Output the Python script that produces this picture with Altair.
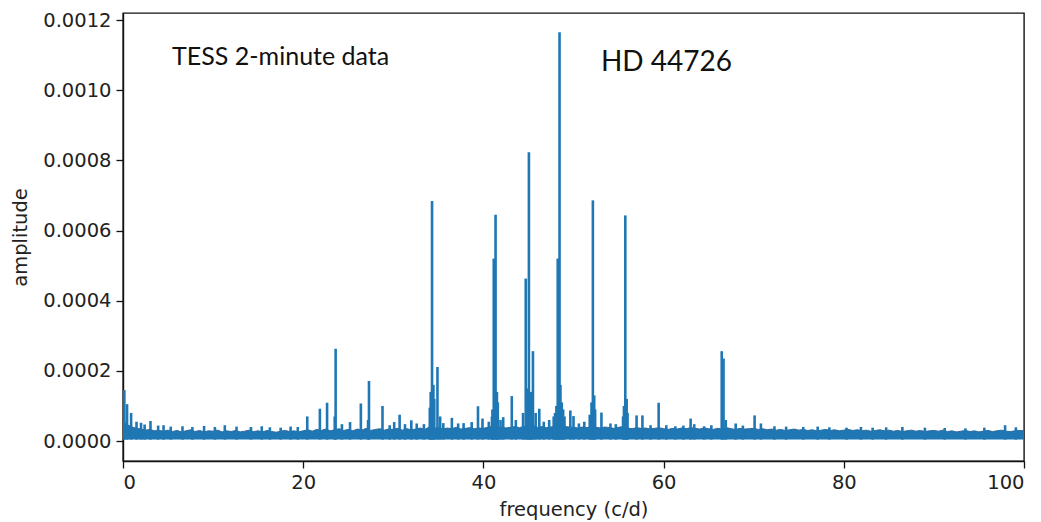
import altair as alt
import pandas as pd

# Amplitude spectrum of HD 44726 (TESS 2-minute cadence); amplitudes stored in units of 1e-6
AMP_UNIT = 1e-6

# Upper edge of the noise band, sampled every 0.5 c/d from 0 to 100 c/d
noise_step = 0.5
noise_top = [
    58, 46, 40, 36, 34, 31, 33, 29, 30, 28, 31, 27, 30, 26, 29, 32, 27, 30, 26, 29,
    28, 31, 26, 29, 27, 30, 26, 28, 31, 27, 29, 26, 30, 27, 25, 28, 30, 27, 29, 26,
    29, 32, 28, 33, 30, 34, 29, 32, 35, 30, 33, 29, 34, 31, 36, 30, 33, 35, 31, 34,
    33, 36, 31, 35, 32, 34, 37, 33, 40, 36, 38, 34, 37, 35, 39, 34, 36, 38, 35, 37,
    36, 39, 42, 38, 40, 37, 39, 41, 38, 42, 40, 44, 39, 41, 38, 40, 42, 46, 41, 40,
    39, 37, 40, 38, 42, 39, 37, 40, 38, 36, 39, 41, 37, 35, 38, 36, 37, 34, 36, 38,
    35, 33, 36, 34, 37, 35, 38, 36, 34, 37, 35, 33, 36, 34, 38, 35, 33, 36, 34, 35,
    36, 33, 35, 32, 34, 31, 33, 30, 32, 34, 31, 33, 30, 32, 29, 31, 33, 30, 32, 29,
    31, 33, 30, 32, 29, 31, 28, 30, 32, 29, 31, 28, 30, 27, 29, 31, 28, 30, 27, 29,
    30, 28, 31, 27, 29, 26, 28, 30, 27, 29, 26, 28, 30, 27, 29, 31, 28, 27, 29, 30,
    29,
]
noise_floor = 4

# Individual spectral peaks: frequency (c/d) and amplitude (1e-6)
peak_freq = [
    0.15, 0.45, 0.9, 1.5, 2.0, 2.4, 3.05, 3.9, 4.5, 5.3, 6.6, 7.7, 9.0, 10.2, 11.3,
    12.6, 14.2, 15.4, 16.3, 17.5, 18.6, 19.4,
    20.45, 21.85, 22.65, 23.5, 23.6, 24.3, 25.2, 26.4, 27.2, 27.3, 28.8, 29.6,
    30.1, 30.7, 31.3, 32.0, 32.6, 33.4,
    34.05, 34.15, 34.3, 34.45, 34.55, 34.9, 35.2, 35.55, 36.5, 37.2, 37.8, 38.7,
    39.4, 39.9, 40.6,
    40.95, 41.0, 41.15, 41.35, 41.5, 41.6, 41.9, 42.2, 43.15, 43.6,
    44.4, 44.7, 44.9, 45.05, 45.2, 45.3, 45.5, 45.8, 46.2, 46.7, 47.3,
    47.8, 47.95, 48.1, 48.25, 48.35, 48.45, 48.55, 48.7, 48.85, 49.0, 49.65, 50.0,
    50.6, 51.2,
    51.8, 52.0, 52.15, 52.3, 52.4, 53.1, 54.1, 54.7,
    55.5, 55.6, 55.75, 55.9, 56.0, 57.0, 57.65, 58.55, 59.45, 60.3, 61.3,
    62.2, 63.0, 63.4, 64.5, 65.3, 66.45, 66.65, 66.9, 68.0, 68.8, 70.1, 70.8,
    72.3, 73.6, 75.5, 77.1, 78.4, 80.3, 81.9, 83.2, 84.7, 86.5, 89.0, 91.2,
    93.5, 95.6, 97.9, 99.1,
]
peak_amp = [
    145, 105, 80, 55, 52, 47, 57, 44, 45, 41, 42, 40, 43, 40, 45,
    41, 40, 42, 39, 38, 41, 40,
    70, 92, 109, 70, 263, 48, 54, 107, 60, 171, 100, 45,
    54, 75, 48, 59, 50, 48,
    95, 140, 684, 160, 120, 211, 70, 51, 66, 50, 51, 54,
    99, 64, 55,
    70, 90, 520, 645, 140, 110, 60, 68, 128, 60,
    80, 463, 150, 823, 120, 140, 256, 80, 92, 55, 60,
    70, 80, 100, 520, 180, 1165, 160, 110, 90, 70, 87, 71,
    50, 55,
    75, 110, 686, 130, 90, 81, 50, 48,
    70, 100, 643, 120, 80, 73, 73, 45, 109, 45, 42,
    44, 64, 48, 42, 45, 256, 235, 60, 50, 44, 73, 50,
    42, 41, 40, 41, 39, 38, 40, 38, 39, 40, 38, 37,
    36, 38, 45, 39,
]

# Annotation texts placed in data coordinates
note_text = ["TESS 2-minute data", "HD 44726"]
note_freq = [5.45, 53.05]
note_amp = [0.001073, 0.001056]
note_size = [25, 28]

BLUE = "#1f77b4"

noise_df = pd.DataFrame({
    "frequency": [i * noise_step for i in range(len(noise_top))],
    "top": [v * AMP_UNIT for v in noise_top],
    "bottom": [noise_floor * AMP_UNIT] * len(noise_top),
})
peak_df = pd.DataFrame({
    "frequency": peak_freq,
    "amplitude": [v * AMP_UNIT for v in peak_amp],
    "base": [noise_floor * AMP_UNIT] * len(peak_freq),
})
note_df = pd.DataFrame({
    "text": note_text, "frequency": note_freq, "amplitude": note_amp, "size": note_size,
})

x_scale = alt.Scale(domain=[0, 100], nice=False, zero=False)
y_scale = alt.Scale(domain=[-0.000057, 0.00122], nice=False, zero=False)

x_axis = alt.Axis(
    title="frequency (c/d)", values=[0, 20, 40, 60, 80, 100], format="d",
    grid=False, titlePadding=9, labelPadding=5,
)
y_axis = alt.Axis(
    title="amplitude",
    values=[0, 0.0002, 0.0004, 0.0006, 0.0008, 0.0010, 0.0012], format=".4f",
    grid=False, titlePadding=12, labelPadding=5,
)

band = alt.Chart(noise_df).mark_area(color=BLUE, opacity=1, strokeWidth=0).encode(
    x=alt.X("frequency:Q", scale=x_scale, axis=x_axis),
    y=alt.Y("top:Q", scale=y_scale, axis=y_axis),
    y2="bottom:Q",
)

band_edge = alt.Chart(noise_df).mark_line(color="#2a6aa0", strokeWidth=1).encode(
    x=alt.X("frequency:Q", scale=x_scale),
    y=alt.Y("top:Q", scale=y_scale),
)

peaks = alt.Chart(peak_df).mark_rule(color=BLUE, strokeWidth=2.6).encode(
    x=alt.X("frequency:Q", scale=x_scale),
    y=alt.Y("amplitude:Q", scale=y_scale),
    y2="base:Q",
)

notes = alt.Chart(note_df).mark_text(
    align="left", baseline="alphabetic", font="Lato", color="#111111",
).encode(
    x=alt.X("frequency:Q", scale=x_scale),
    y=alt.Y("amplitude:Q", scale=y_scale),
    text="text:N",
    size=alt.Size("size:Q", scale=None, legend=None),
)

chart = (
    alt.layer(band, band_edge, peaks, notes)
    .properties(
        width=901, height=448,
        autosize=alt.AutoSizeParams(type="none"),
        padding={"left": 123, "top": 13, "right": 17, "bottom": 61},
        background="white",
    )
    .configure_view(stroke="#111111", strokeWidth=1.4)
    .configure_axis(
        labelFont="DejaVu Sans", labelFontSize=19.5, labelColor="#222222",
        titleFont="DejaVu Sans", titleFontSize=19.5, titleFontWeight="normal",
        titleColor="#222222",
        domainColor="#111111", domainWidth=1.4,
        tickColor="#111111", tickSize=7, tickWidth=1.3,
    )
)

chart.save("out.html", embed_options={"renderer": "svg", "actions": False})
